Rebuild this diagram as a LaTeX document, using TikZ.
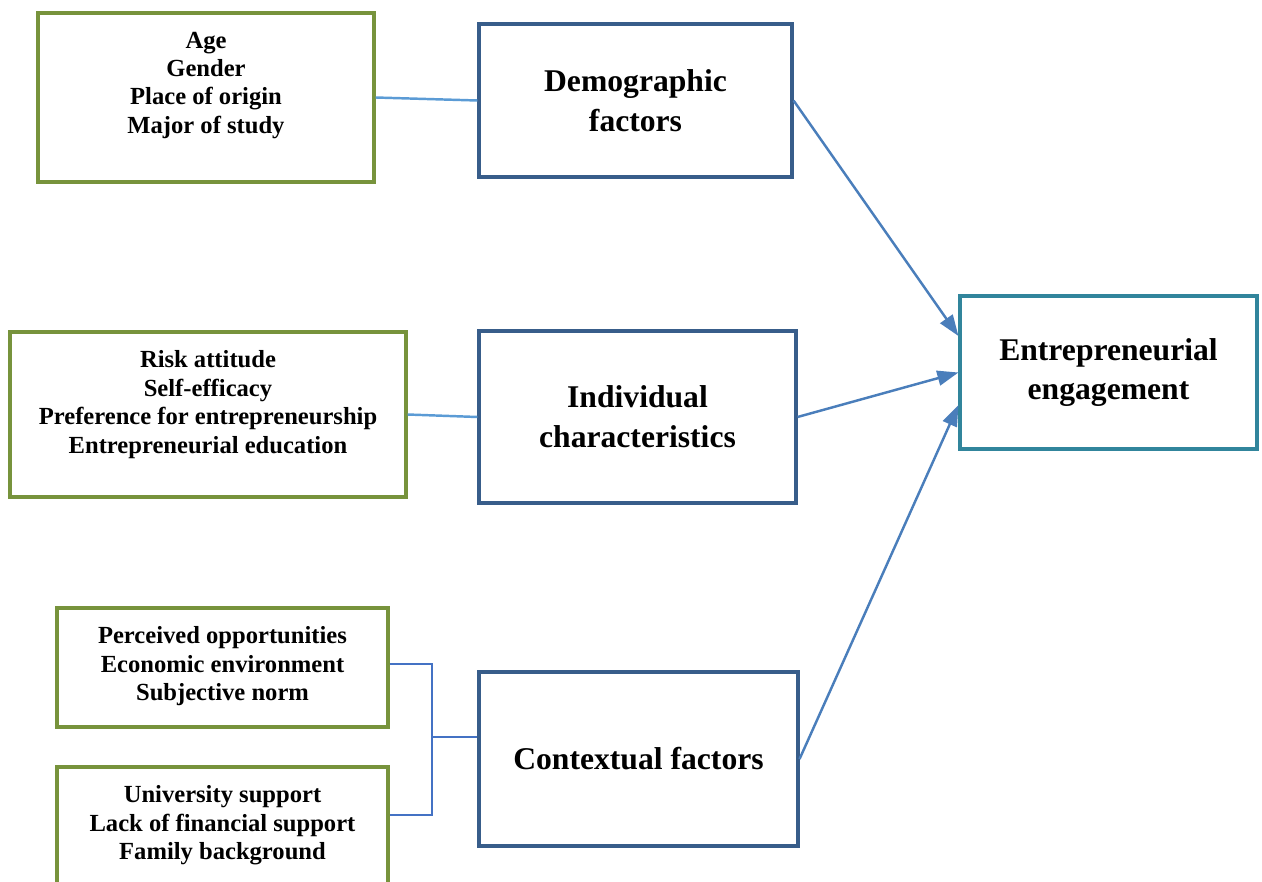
\documentclass[tikz,border=0pt]{standalone}
\usepackage{fontspec}
\setmainfont{Liberation Serif}
\usetikzlibrary{positioning}
\usetikzlibrary{arrows.meta}

\definecolor{itemgreen}{HTML}{77933C}
\definecolor{factorblue}{HTML}{385D8A}
\definecolor{outcometeal}{HTML}{31859C}
\definecolor{arrowblue}{HTML}{4A7EBB}
\definecolor{linkblue}{HTML}{4472C4}
\definecolor{lightblue}{HTML}{5B9BD5}

\begin{document}
\begin{tikzpicture}[x=0.02cm,y=-0.02cm,
  itembox/.style={draw=itemgreen,line width=1.8pt,fill=white},
  itemtext/.style={inner sep=0pt,align=center,font=\fontsize{14}{16.2}\selectfont\bfseries},
  factor/.style={draw=factorblue,line width=1.8pt,align=center,font=\fontsize{18}{22.7}\selectfont\bfseries},
  link/.style={draw=lightblue,line width=1.4pt},
  forklink/.style={draw=linkblue,line width=1.4pt},
  effect/.style={draw=arrowblue,line width=1.4pt,-{Triangle[length=12pt,width=8.5pt]}}]
 \useasboundingbox (0,0) rectangle (1262,882);

 % left boxes: the variables
 \node[itembox,minimum width=6.72cm,minimum height=3.38cm] (age) at (206,97.5) {};
 \node[itemtext,below=0.4cm of age.north] (agetxt) {Age\\Gender\\Place of origin\\Major of study};
 \node[itembox,minimum width=7.92cm,minimum height=3.30cm] (risk) at (208,414.5) {};
 \node[itemtext,below=0.4cm of risk.north] (risktxt) {Risk attitude\\Self-efficacy\\Preference for entrepreneurship\\Entrepreneurial education};
 \node[itembox,minimum width=6.62cm,minimum height=2.38cm] (perc) at (222.5,667.5) {};
 \node[itemtext,below=0.4cm of perc.north] (perctxt) {Perceived opportunities\\Economic environment\\Subjective norm};
 \node[itembox,minimum width=6.62cm,minimum height=2.38cm] (univ) at (222.5,826.5) {};
 \node[itemtext,below=0.4cm of univ.north] (univtxt) {University support\\Lack of financial support\\Family background};

 % middle boxes: the factors
 \node[factor,minimum width=6.26cm,minimum height=3.06cm] (demo) at (635.5,100.5) {Demographic\\factors};
 \node[factor,minimum width=6.34cm,minimum height=3.44cm] (indiv) at (637.5,417) {Individual\\characteristics};
 \node[factor,minimum width=6.38cm,minimum height=3.48cm] (ctx) at (638.5,759) {Contextual factors};

 % right box: the outcome
 \node[factor,draw=outcometeal,minimum width=5.94cm,minimum height=3.06cm] (eng) at (1108.5,372.5) {Entrepreneurial\\engagement};

 % links
 \draw[link] (age.east) -- (demo.west);
 \draw[link] (risk.east) -- (indiv.west);
 \coordinate (fork) at (432,737);
 \draw[forklink] ([yshift=0.07cm]perc.east) -| (fork) |- ([yshift=0.23cm]univ.east);
 \draw[forklink] (fork) -- (ctx.west |- fork);

 % effects
 \draw[effect] (demo.east) -- ([yshift=0.73cm]eng.west);
 \draw[effect] (indiv.east) -- (eng.west);
 \draw[effect] (ctx.east) -- ([yshift=-0.65cm]eng.west);
\end{tikzpicture}
\end{document}
